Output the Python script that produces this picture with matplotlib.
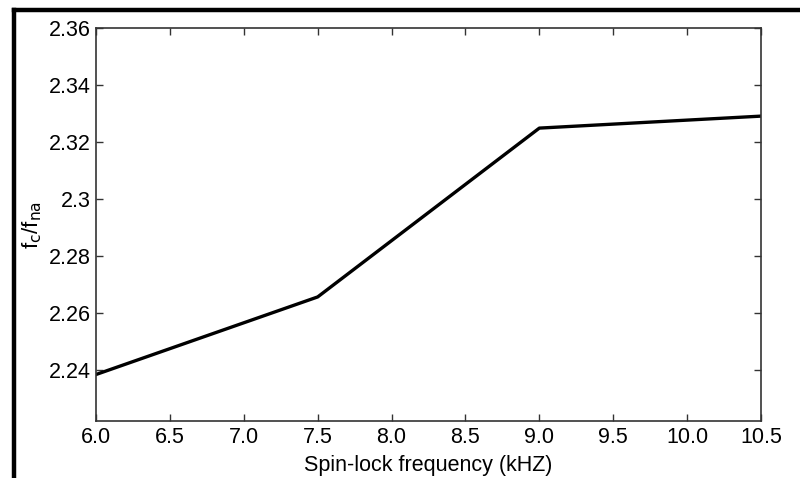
import matplotlib
matplotlib.use("Agg")
import matplotlib.pyplot as plt
from matplotlib.lines import Line2D

x = [6.0, 7.5, 9.0, 10.5]
y = [2.2385, 2.2657, 2.3249, 2.3291]
xticks = [6.0, 6.5, 7.0, 7.5, 8.0, 8.5, 9.0, 9.5, 10.0, 10.5]
yticks = [2.24, 2.26, 2.28, 2.30, 2.32, 2.34, 2.36]
ytick_labels = ["2.24", "2.26", "2.28", "2.3", "2.32", "2.34", "2.36"]

plt.rcParams['font.family'] = ['Liberation Sans', 'DejaVu Sans']
W, H = 800, 478
fig = plt.figure(figsize=(8, 4.78), dpi=100)
ax = fig.add_axes([96 / W, 1 - 421 / H, (761 - 96) / W, (421 - 28) / H])
ax.plot(x, y, color='black', linewidth=2.4)
ax.set_xlim(6.0, 10.5)
ax.set_ylim(2.2222, 2.36)
ax.set_xticks(xticks)
ax.set_xticklabels([f"{v:.1f}" for v in xticks])
ax.set_yticks(yticks)
ax.set_yticklabels(ytick_labels)
ax.tick_params(direction='in', top=True, right=True, length=5, width=1,
               labelsize=15.5, color='#333333', pad=4)
for s in ax.spines.values():
    s.set_color('#333333')
    s.set_linewidth(1.2)
ax.set_xlabel("Spin-lock frequency (kHZ)", fontsize=15.5, labelpad=5)
ax.set_ylabel(r"f$_{\mathrm{c}}$/f$_{\mathrm{na}}$", fontsize=16, labelpad=3)

# outer black frame (partially visible)
fig.add_artist(Line2D([14 / W, 1.0], [1 - 10 / H, 1 - 10 / H], transform=fig.transFigure,
                      color='black', linewidth=3.2))
fig.add_artist(Line2D([14 / W, 14 / W], [0.0, 1 - 10 / H], transform=fig.transFigure,
                      color='black', linewidth=3.2))

fig.savefig("out.png", dpi=100)
